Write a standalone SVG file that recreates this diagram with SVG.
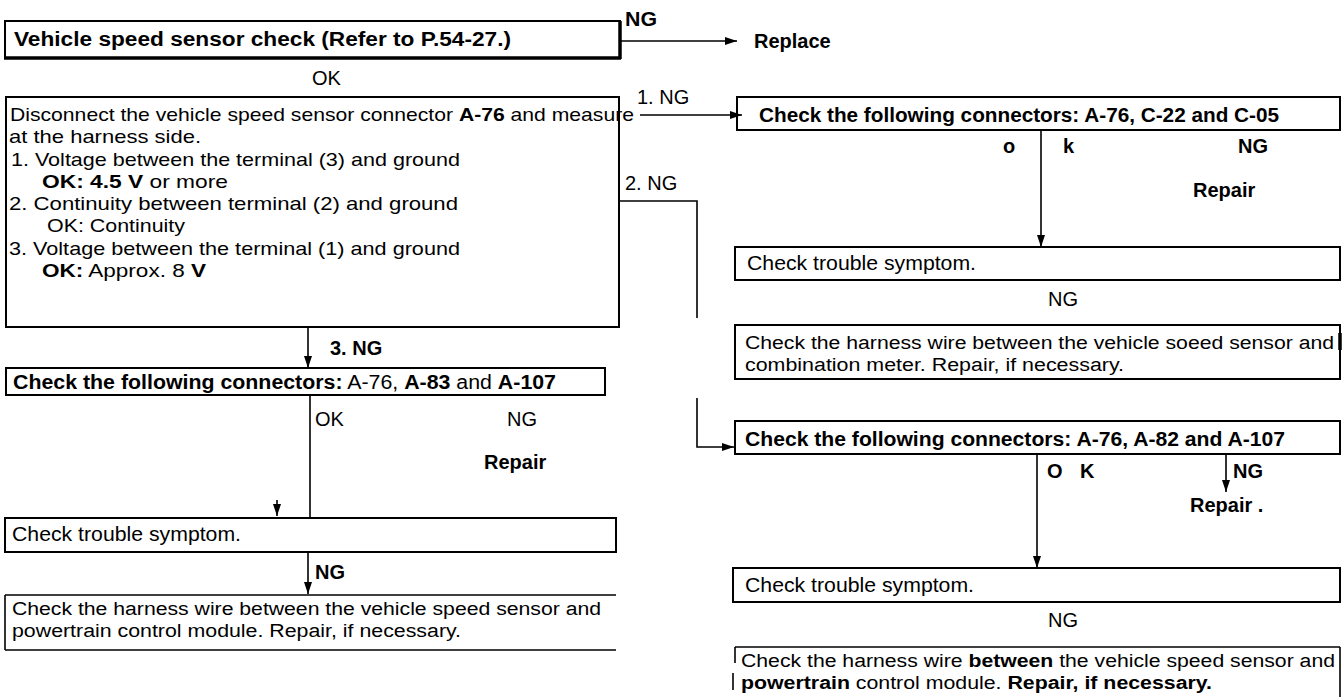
<svg xmlns="http://www.w3.org/2000/svg" width="1343" height="697" viewBox="0 0 1343 697">
<style>
text{font-family:"Liberation Sans",Arial,sans-serif;font-size:20px;fill:#000}
.b{font-weight:bold}
.s{font-size:19px}
.h{font-size:18px}
.box{fill:none;stroke:#000;stroke-width:2}
.ln{fill:none;stroke:#000;stroke-width:1.6}
.thk{fill:none;stroke:#000;stroke-width:3.5}
</style>
<defs>
<marker id="ah" viewBox="0 0 12 8" refX="12" refY="4" markerWidth="12" markerHeight="8" markerUnits="userSpaceOnUse" orient="auto"><path d="M0,0 L12,4 L0,8 z" fill="#000"/></marker>
</defs>
<rect width="1343" height="697" fill="#fff"/>

<g id="connectors">
<line class="ln" x1="620" y1="41" x2="737" y2="41" marker-end="url(#ah)"/>
<line class="ln" x1="640" y1="115" x2="742" y2="115" marker-end="url(#ah)"/>
<polyline class="ln" points="619,201 697,201 697,318"/>
<polyline class="ln" points="697,398 697,447 734,447" marker-end="url(#ah)"/>
<line class="ln" x1="308" y1="327" x2="308" y2="368" marker-end="url(#ah)"/>
<line class="ln" x1="310" y1="395" x2="310" y2="518"/>
<line class="ln" x1="277" y1="500" x2="277" y2="516" marker-end="url(#ah)"/>
<line class="ln" x1="308" y1="552" x2="308" y2="594" marker-end="url(#ah)"/>
<line class="ln" x1="1041" y1="130" x2="1041" y2="247" marker-end="url(#ah)"/>
<line class="ln" x1="1037" y1="454" x2="1037" y2="568" marker-end="url(#ah)"/>
<line class="ln" x1="1226" y1="454" x2="1226" y2="492" marker-end="url(#ah)"/>
</g>

<g id="labels">
<text class="b" x="625" y="26" font-size="22" textLength="32" lengthAdjust="spacingAndGlyphs">NG</text>
<text class="b" x="754" y="48" font-size="18">Replace</text>
<text x="312" y="85" font-size="19">OK</text>
<text x="637" y="104">1. NG</text>
<text x="625" y="190">2. NG</text>
<text class="b" x="330" y="355">3. NG</text>
<text x="315" y="426">OK</text>
<text x="507" y="426">NG</text>
<text class="b" x="484" y="469">Repair</text>
<text class="b" x="315" y="579">NG</text>
<text class="b" x="1003" y="153">o</text>
<text class="b" x="1063" y="153">k</text>
<text class="b" x="1238" y="153">NG</text>
<text class="b" x="1193" y="197">Repair</text>
<text x="1048" y="306">NG</text>
<text class="b" x="1047" y="478">O</text>
<text class="b" x="1080" y="478">K</text>
<text class="b" x="1233" y="478">NG</text>
<text class="b" x="1190" y="512">Repair .</text>
<text x="1048" y="627">NG</text>
</g>

<g id="n-title">
<rect class="box" x="5" y="21" width="615" height="37"/>
<line class="thk" x1="4" y1="58" x2="621" y2="58"/>
<line class="thk" x1="620" y1="21" x2="620" y2="59"/>
<text class="b" x="14" y="46" textLength="497" lengthAdjust="spacingAndGlyphs">Vehicle speed sensor check (Refer to P.54-27.)</text>
</g>

<g id="n-measure">
<rect class="box" x="6" y="97" width="613" height="230"/>
<text class="s" x="10" y="121" textLength="624" lengthAdjust="spacingAndGlyphs">Disconnect the vehicle speed sensor connector <tspan class="b">A-76</tspan> and measure</text>
<text class="s" x="9" y="143" textLength="192" lengthAdjust="spacingAndGlyphs">at the harness side.</text>
<text class="s" x="11" y="166" textLength="449" lengthAdjust="spacingAndGlyphs">1. Voltage between the terminal (3) and ground</text>
<text class="s" x="42" y="188" textLength="186" lengthAdjust="spacingAndGlyphs"><tspan class="b">OK: 4.5 V</tspan> or more</text>
<text class="s" x="9" y="210" textLength="449" lengthAdjust="spacingAndGlyphs">2. Continuity between terminal (2) and ground</text>
<text class="s" x="47" y="232" textLength="138" lengthAdjust="spacingAndGlyphs">OK: Continuity</text>
<text class="s" x="9" y="255" textLength="451" lengthAdjust="spacingAndGlyphs">3. Voltage between the terminal (1) and ground</text>
<text class="s" x="42" y="277" textLength="164" lengthAdjust="spacingAndGlyphs"><tspan class="b">OK:</tspan> Approx. 8 <tspan class="b">V</tspan></text>
</g>

<g id="n-conn-left">
<rect class="box" x="6" y="368" width="599" height="27"/>
<text x="13" y="389" textLength="543" lengthAdjust="spacingAndGlyphs"><tspan class="b">Check the following connectors:</tspan> A-76, <tspan class="b">A-83</tspan> and <tspan class="b">A-107</tspan></text>
</g>

<g id="n-trouble-left">
<rect class="box" x="5" y="518" width="611" height="34"/>
<text x="12" y="541" textLength="229" lengthAdjust="spacingAndGlyphs">Check trouble symptom.</text>
</g>

<g id="n-harness-left">
<line class="ln" x1="5" y1="595" x2="616" y2="595" stroke-width="2.5"/>
<line class="ln" x1="5" y1="595" x2="5" y2="650" stroke-width="2"/>
<line class="ln" x1="5" y1="650" x2="616" y2="650" stroke-width="2"/>
<text class="h" x="12" y="615" textLength="589" lengthAdjust="spacingAndGlyphs">Check the harness wire between the vehicle speed sensor and</text>
<text class="h" x="12" y="637" textLength="449" lengthAdjust="spacingAndGlyphs">powertrain control module. Repair, if necessary.</text>
</g>

<g id="n-conn-c22">
<rect class="box" x="737" y="97" width="603" height="33"/>
<text class="b" x="759" y="122" textLength="520" lengthAdjust="spacingAndGlyphs">Check the following connectors: A-76, C-22 and C-05</text>
</g>

<g id="n-trouble-r1">
<rect class="box" x="735" y="247" width="605" height="33"/>
<text x="747" y="270" textLength="229" lengthAdjust="spacingAndGlyphs">Check trouble symptom.</text>
</g>

<g id="n-harness-r1">
<rect class="box" x="735" y="325" width="605" height="54"/>
<line class="thk" x1="1340" y1="333" x2="1340" y2="350"/>
<text class="h" x="745" y="349" textLength="589" lengthAdjust="spacingAndGlyphs">Check the harness wire between the vehicle soeed sensor and</text>
<text class="h" x="745" y="371" textLength="379" lengthAdjust="spacingAndGlyphs">combination meter. Repair, if necessary.</text>
</g>

<g id="n-conn-a82">
<rect class="box" x="735" y="421" width="605" height="33"/>
<text class="b" x="745" y="446" textLength="540" lengthAdjust="spacingAndGlyphs">Check the following connectors: A-76, A-82 and A-107</text>
</g>

<g id="n-trouble-r2">
<rect class="box" x="733" y="568" width="607" height="34"/>
<text x="745" y="592" textLength="229" lengthAdjust="spacingAndGlyphs">Check trouble symptom.</text>
</g>

<g id="n-harness-r2">
<line class="ln" x1="735" y1="647" x2="1340" y2="647" stroke-width="2"/>
<line class="ln" x1="735" y1="647" x2="735" y2="663" stroke-width="2"/>
<line class="ln" x1="733" y1="673" x2="733" y2="690" stroke-width="2"/>
<line class="ln" x1="1340" y1="647" x2="1340" y2="697" stroke-width="2"/>
<text class="h" x="741" y="667" textLength="594" lengthAdjust="spacingAndGlyphs">Check the harness wire <tspan class="b">between</tspan> the vehicle speed sensor and</text>
<text class="h" x="741" y="689" textLength="471" lengthAdjust="spacingAndGlyphs"><tspan class="b">powertrain</tspan> control module. <tspan class="b">Repair, if necessary.</tspan></text>
</g>
</svg>
